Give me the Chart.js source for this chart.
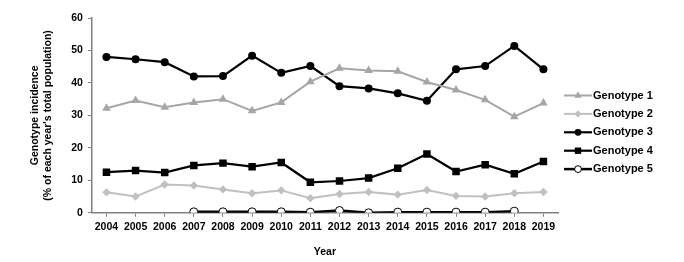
<!DOCTYPE html>
<html><head><meta charset="utf-8">
<script src="https://cdn.jsdelivr.net/npm/chart.js@4/dist/chart.umd.min.js"></script>
<style>html,body{margin:0;padding:0;background:#fff}#wrap{width:684px;height:262px}</style>
</head><body><div id="wrap"><canvas id="c" width="684" height="262"></canvas></div>
<script>
const years = ["2004","2005","2006","2007","2008","2009","2010","2011","2012","2013","2014","2015","2016","2017","2018","2019"];
const genotype1 = [32.2,34.6,32.5,34.0,35.0,31.4,34.0,40.4,44.5,43.8,43.6,40.3,37.8,34.8,29.6,33.8];
const genotype2 = [6.3,5.0,8.7,8.4,7.2,6.0,6.9,4.5,5.8,6.4,5.6,7.0,5.2,5.0,6.0,6.4];
const genotype3 = [48.0,47.3,46.4,42.0,42.1,48.4,43.1,45.2,39.0,38.3,36.8,34.5,44.2,45.2,51.4,44.2];
const genotype4 = [12.5,13.0,12.4,14.6,15.3,14.2,15.5,9.4,9.8,10.7,13.7,18.1,12.7,14.8,12.0,15.8];
const genotype5 = [null,null,null,0.3,0.3,0.3,0.3,0.2,0.7,0.0,0.2,0.2,0.2,0.2,0.5,null];
const yTicks = [0,10,20,30,40,50,60];
const seriesNames = ["Genotype 1","Genotype 2","Genotype 3","Genotype 4","Genotype 5"];

const FONT = "'Liberation Sans', Arial, sans-serif";

const datasets = [
  {label:seriesNames[0], data:genotype1, borderColor:'#a6a6a6', backgroundColor:'#a6a6a6', borderWidth:2, pointStyle:'triangle', pointRadius:5, pointBorderWidth:0},
  {label:seriesNames[1], data:genotype2, borderColor:'#c0c0c0', backgroundColor:'#c0c0c0', borderWidth:2, pointStyle:'rectRot', pointRadius:4.2, pointBorderWidth:0},
  {label:seriesNames[2], data:genotype3, borderColor:'#000', backgroundColor:'#000', borderWidth:2.2, pointStyle:'circle', pointRadius:4, pointBorderWidth:0},
  {label:seriesNames[3], data:genotype4, borderColor:'#000', backgroundColor:'#000', borderWidth:2.2, pointStyle:'rect', pointRadius:5.3, pointBorderWidth:0},
  {label:seriesNames[4], data:genotype5, borderColor:'#000', backgroundColor:'#fff', borderWidth:2.5, pointStyle:'circle', pointRadius:4, pointBorderWidth:1, pointBorderColor:'#000'}
];
datasets.forEach(d=>{d.tension=0; d.spanGaps=false; d.pointHoverRadius=d.pointRadius;});

const legendPlugin = {
  id:'customLegend',
  afterDraw(chart){
    const ctx = chart.ctx;
    const x0 = 564, x1 = 592, startY = 95.5, step = 18.4;
    chart.data.datasets.forEach((ds,i)=>{
      const y = startY + i*step;
      ctx.save();
      ctx.strokeStyle = ds.borderColor; ctx.lineWidth = ds.borderWidth;
      ctx.beginPath(); ctx.moveTo(x0,y); ctx.lineTo(x1,y); ctx.stroke();
      ctx.fillStyle = ds.backgroundColor;
      ctx.strokeStyle = ds.pointBorderColor || ds.borderColor;
      ctx.lineWidth = ds.pointBorderWidth;
      Chart.helpers.drawPoint(ctx,{pointStyle:ds.pointStyle, radius:ds.pointRadius*0.85, borderWidth:ds.pointBorderWidth, rotation:0},(x0+x1)/2,y);
      ctx.fillStyle = '#000';
      ctx.font = 'bold 11px ' + FONT;
      ctx.textBaseline = 'middle'; ctx.textAlign='left';
      ctx.fillText(ds.label, x1+1, y);
      ctx.restore();
    });
  }
};

new Chart(document.getElementById('c'), {
  type:'line',
  data:{labels:years, datasets},
  options:{
    responsive:false, animation:false,
    layout:{padding:{left:29, right:126, top:18, bottom:4}},
    plugins:{legend:{display:false}, tooltip:{enabled:false}},
    scales:{
      x:{
        offset:true,
        grid:{display:true, drawOnChartArea:false, offset:false, tickLength:4, color:'#808080', tickColor:'#808080'},
        border:{display:true, color:'#808080', width:1.5},
        ticks:{color:'#000', font:{family:FONT, size:10.5, weight:'bold'}, maxRotation:0, autoSkip:false, padding:4},
        title:{display:true, text:'Year', color:'#000', font:{family:FONT, size:10.5, weight:'bold'}, padding:{top:8, bottom:0}}
      },
      y:{
        min:0, max:60,
        afterBuildTicks(axis){ axis.ticks = yTicks.map(v=>({value:v})); },
        grid:{display:true, drawOnChartArea:false, tickLength:4, color:'#808080', tickColor:'#808080'},
        border:{display:true, color:'#808080', width:1.5},
        ticks:{color:'#000', font:{family:FONT, size:10.5, weight:'bold'}, padding:5},
        title:{display:true, text:['Genotype incidence',"(% of each year's total population)"], color:'#000', font:{family:FONT, size:10.5, weight:'bold'}, padding:{top:0,bottom:12}}
      }
    }
  },
  plugins:[legendPlugin]
});
</script></body></html>
